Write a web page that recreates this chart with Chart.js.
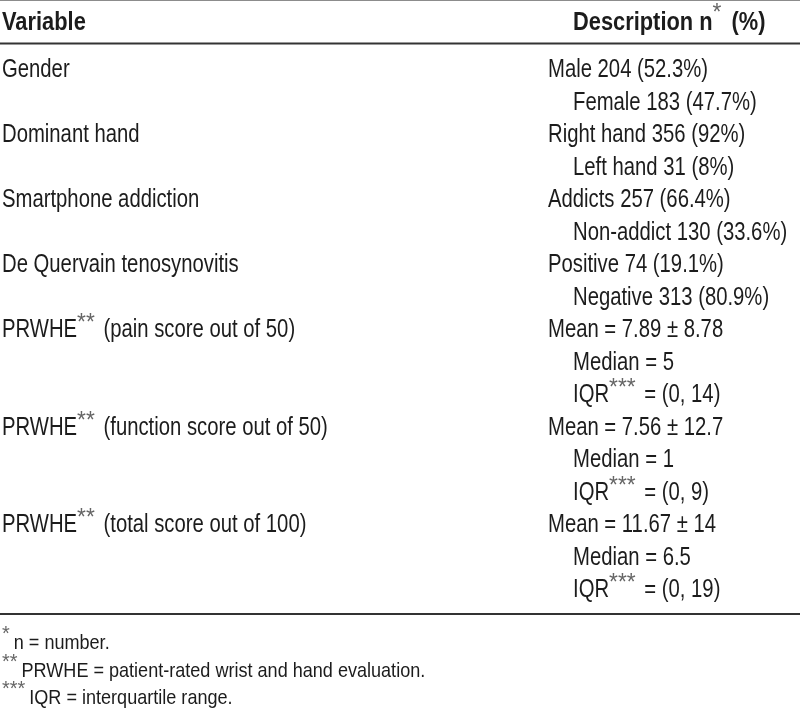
<!DOCTYPE html>
<html lang="en">
<head>
<meta charset="UTF-8" />
<title>Sample characteristics</title>
<script src="https://cdn.jsdelivr.net/npm/chart.js"></script>
<style>
  html, body { margin: 0; padding: 0; background: #fff; }
  #wrap { width: 800px; height: 711px; }
</style>
</head>
<body>
<div id="wrap"><canvas id="table" width="800" height="711"></canvas></div>
<script>
// table content; ^{...} marks a superscript
const headers = ["Variable", "Description n^{*} (%)"];
const variables = [
  "Gender",
  "Dominant hand",
  "Smartphone addiction",
  "De Quervain tenosynovitis",
  "PRWHE^{**} (pain score out of 50)",
  "PRWHE^{**} (function score out of 50)",
  "PRWHE^{**} (total score out of 100)"
];
// body row where each variable starts
const variableRows = [0, 2, 4, 6, 8, 11, 14];
const descriptions = [
  "Male 204 (52.3%)",
  "Female 183 (47.7%)",
  "Right hand 356 (92%)",
  "Left hand 31 (8%)",
  "Addicts 257 (66.4%)",
  "Non-addict 130 (33.6%)",
  "Positive 74 (19.1%)",
  "Negative 313 (80.9%)",
  "Mean = 7.89 ± 8.78",
  "Median = 5",
  "IQR^{***} = (0, 14)",
  "Mean = 7.56 ± 12.7",
  "Median = 1",
  "IQR^{***} = (0, 9)",
  "Mean = 11.67 ± 14",
  "Median = 6.5",
  "IQR^{***} = (0, 19)"
];
const footnotes = [
  "^{*}n = number.",
  "^{**}PRWHE = patient-rated wrist and hand evaluation.",
  "^{***}IQR = interquartile range."
];

const FONT = '"Liberation Sans", Arial, sans-serif';
const TEXT_COLOR = "#1c1c1c";
const SUP_COLOR = "#666";
const W = 800, H = 711;
const ROW_H = 32.5, FIRST_BASE = 77;   // px between rows, baseline of first body row
const X_LEFT = 2, X_RIGHT = 548, INDENT = 25;

// layout in row units (y scale)
const HEADER_ROW = (30 - FIRST_BASE) / ROW_H;
const RULES = [
  { y: (0.5 - FIRST_BASE) / ROW_H, w: 1, c: "#8c8c8c" },
  { y: (43.5 - FIRST_BASE) / ROW_H, w: 2, c: "#333" },
  { y: (614 - FIRST_BASE) / ROW_H, w: 2, c: "#333" }
];
const FOOT_ROW = (649 - FIRST_BASE) / ROW_H, FOOT_STEP = 27.5 / ROW_H;

const bodyStyle = { weight: "normal", size: 26, sx: 0.78, supSize: 24, supSx: 0.95, supRise: 7, supGap: 3 };
const headStyle = { weight: "bold", size: 26, sx: 0.84, supSize: 24, supSx: 0.95, supRise: 10, supGap: 4 };
const footStyle = { weight: "normal", size: 21, sx: 0.86, supSize: 21, supSx: 0.95, supRise: 9, supGap: 4 };

function segments(str) {
  const out = [];
  const re = /\^\{([^}]*)\}/g;
  let last = 0, m;
  while ((m = re.exec(str))) {
    if (m.index > last) out.push({ t: str.slice(last, m.index) });
    out.push({ t: m[1], sup: true });
    last = re.lastIndex;
  }
  if (last < str.length) out.push({ t: str.slice(last) });
  return out;
}

function drawRich(ctx, str, x, y, st) {
  let cx = x;
  for (const seg of segments(str)) {
    const size = seg.sup ? st.supSize : st.size;
    const sx = seg.sup ? st.supSx : st.sx;
    ctx.font = (seg.sup ? "normal" : st.weight) + " " + size + "px " + FONT;
    ctx.fillStyle = seg.sup ? SUP_COLOR : TEXT_COLOR;
    const w = ctx.measureText(seg.t).width * sx;
    ctx.save();
    ctx.translate(cx, y - (seg.sup ? st.supRise : 0));
    ctx.scale(sx, 1);
    ctx.fillText(seg.t, 0, 0);
    ctx.restore();
    cx += w + (seg.sup ? st.supGap : 0);
  }
}

const tableText = {
  id: "tableText",
  afterDatasetsDraw(chart) {
    const ctx = chart.ctx;
    const xs = chart.scales.x, ys = chart.scales.y;
    ctx.save();
    ctx.textBaseline = "alphabetic";
    ctx.textAlign = "left";

    RULES.forEach(r => {
      const y = ys.getPixelForValue(r.y);
      ctx.strokeStyle = r.c;
      ctx.lineWidth = r.w;
      ctx.beginPath();
      ctx.moveTo(xs.left, y);
      ctx.lineTo(xs.right, y);
      ctx.stroke();
    });

    const hy = ys.getPixelForValue(HEADER_ROW);
    drawRich(ctx, headers[0], xs.getPixelForValue(0), hy, headStyle);
    drawRich(ctx, headers[1], xs.getPixelForValue(1) + INDENT, hy, headStyle);

    chart.getDatasetMeta(0).data.forEach((pt, i) => {
      drawRich(ctx, variables[i], pt.x, pt.y, bodyStyle);
    });
    chart.getDatasetMeta(1).data.forEach((pt, i) => {
      const indent = variableRows.includes(i) ? 0 : INDENT;
      drawRich(ctx, descriptions[i], pt.x + indent, pt.y, bodyStyle);
    });

    footnotes.forEach((f, i) => {
      drawRich(ctx, f, xs.getPixelForValue(0), ys.getPixelForValue(FOOT_ROW + i * FOOT_STEP), footStyle);
    });
    ctx.restore();
  }
};

// column 0 maps to X_LEFT, column 1 to X_RIGHT
const unit = X_RIGHT - X_LEFT;
new Chart(document.getElementById("table"), {
  type: "scatter",
  data: {
    datasets: [
      { label: "Variable", data: variableRows.map(r => ({ x: 0, y: r })), pointRadius: 0 },
      { label: "Description", data: descriptions.map((d, i) => ({ x: 1, y: i })), pointRadius: 0 }
    ]
  },
  options: {
    responsive: false,
    devicePixelRatio: 1,
    animation: false,
    layout: { padding: 0 },
    plugins: { legend: { display: false }, tooltip: { enabled: false } },
    scales: {
      x: { type: "linear", display: false, min: -X_LEFT / unit, max: (W - X_LEFT) / unit },
      y: { type: "linear", display: false, reverse: true, min: -FIRST_BASE / ROW_H, max: (H - FIRST_BASE) / ROW_H }
    }
  },
  plugins: [tableText]
});
</script>
</body>
</html>
